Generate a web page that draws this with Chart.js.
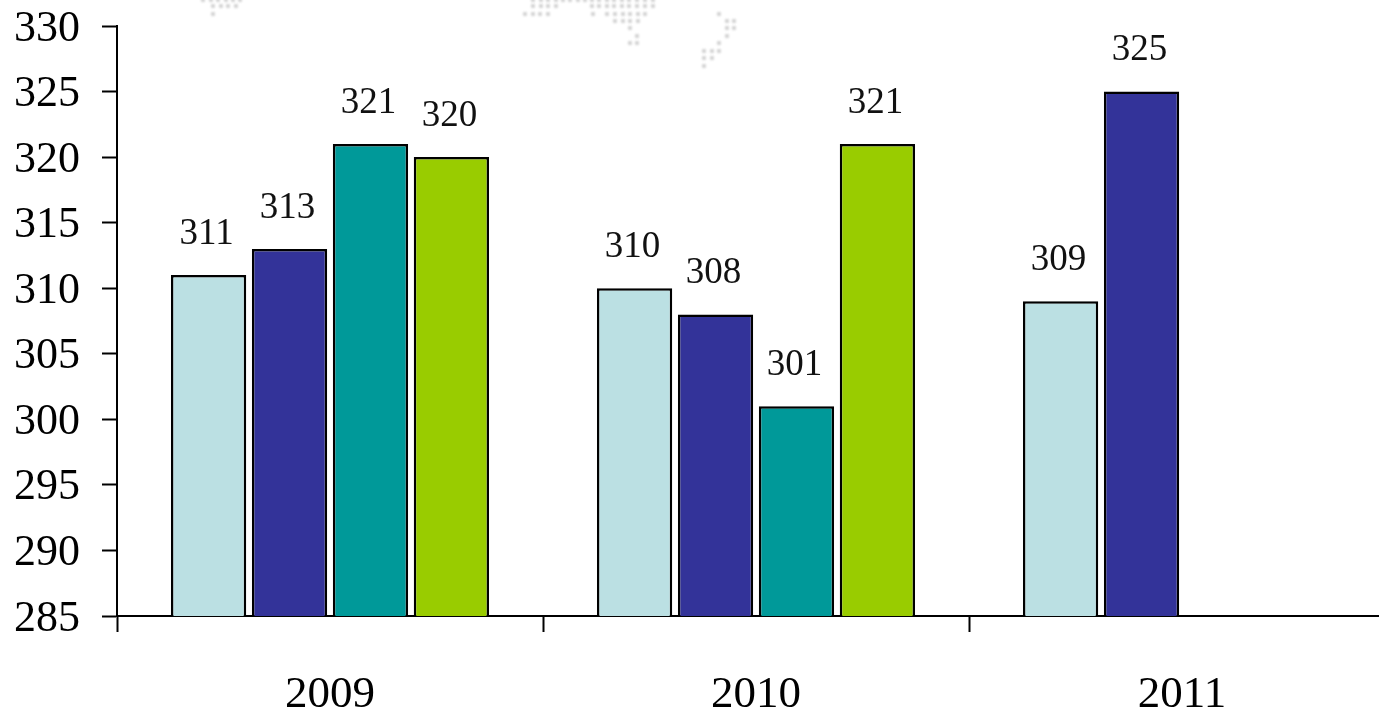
<!DOCTYPE html>
<html>
<head>
<meta charset="utf-8">
<title>Annual bars 2009-2011</title>
<script src="https://cdn.jsdelivr.net/npm/chart.js@4/dist/chart.umd.min.js"></script>
<style>
  html, body { margin: 0; padding: 0; background: #fff; overflow: hidden; }
  #chart { display: block; }
</style>
</head>
<body>
<canvas id="chart" width="1430" height="714"></canvas>
<script>
// Chart values
const years = ['2009', '2010', '2011'];
const seriesOne = [311, 310, 309];
const seriesTwo = [313, 308, 325];
const seriesThree = [321, 301, null];
const seriesFour = [320, 321, null];
const yTicks = [285, 290, 295, 300, 305, 310, 315, 320, 325, 330];

const seriesColors = ['#BBE0E3', '#333399', '#009999', '#99CC00'];
const serifFont = '"Liberation Serif", "Times New Roman", serif';

// Faint dotted world map behind the top of the plot: [y, x, x, ...]
const mapDots = [
  [0, 203, 211, 218, 226, 233, 240, 533, 541, 548, 556, 563, 570, 578, 585, 592, 599, 607, 614, 622, 629, 637, 645, 653],
  [6, 213, 221, 228, 236, 533, 541, 548, 556, 592, 599, 607, 614, 622, 629, 637, 645, 653],
  [14, 213, 525, 533, 540, 548, 593, 607, 615, 623, 630, 638, 645, 719],
  [21, 615, 623, 630, 638, 727, 734],
  [28, 630, 727, 734],
  [36, 637, 727],
  [43, 630, 637, 719],
  [51, 704, 712, 719],
  [58, 704, 712],
  [66, 704]
];

const mapBackground = {
  id: 'mapBackground',
  beforeDraw(chart) {
    const ctx = chart.ctx;
    ctx.save();
    ctx.filter = 'blur(1.2px)';
    ctx.fillStyle = '#d2d2d2';
    mapDots.forEach(([y, ...xs]) => {
      xs.forEach((x) => {
        ctx.beginPath();
        ctx.arc(x, y, 2.2, 0, Math.PI * 2);
        ctx.fill();
      });
    });
    ctx.restore();
  }
};

// Value labels float well above each bar
const valueLabels = {
  id: 'valueLabels',
  afterDatasetsDraw(chart) {
    const ctx = chart.ctx;
    ctx.save();
    ctx.font = '37px ' + serifFont;
    ctx.fillStyle = '#111';
    ctx.textAlign = 'center';
    ctx.textBaseline = 'middle';
    chart.data.datasets.forEach((dataset, i) => {
      chart.getDatasetMeta(i).data.forEach((bar, j) => {
        if (dataset.data[j] === null) return;
        ctx.fillText(dataset.data[j], bar.x - 2, bar.y - 41);
      });
    });
    ctx.restore();
  }
};

const datasets = [seriesOne, seriesTwo, seriesThree, seriesFour].map((values, i) => ({
  label: 'Series ' + (i + 1),
  data: values,
  backgroundColor: seriesColors[i],
  borderColor: '#000',
  borderWidth: 2.5,
  borderSkipped: false,
  categoryPercentage: 0.76,
  barPercentage: 0.93
}));

new Chart(document.getElementById('chart').getContext('2d'), {
  type: 'bar',
  data: { labels: years, datasets: datasets },
  plugins: [mapBackground, valueLabels],
  options: {
    responsive: false,
    animation: false,
    layout: { padding: { top: 26, right: 35, left: 0, bottom: 0 } },
    plugins: {
      legend: { display: false },
      tooltip: { enabled: false }
    },
    scales: {
      x: {
        afterFit(scale) { scale.height = 98; },
        grid: {
          drawOnChartArea: false,
          tickLength: 16,
          tickColor: '#000',
          tickWidth: 2
        },
        border: { color: '#000', width: 2 },
        ticks: {
          color: '#000',
          padding: 36,
          maxRotation: 0,
          font: { family: serifFont, size: 45 }
        }
      },
      y: {
        min: 285,
        max: 330,
        // pin the axis box so tick labels do not push the plot area down
        afterFit(scale) {
          scale.width = 117;
          scale.paddingTop = 0;
          scale.paddingBottom = 0;
        },
        afterBuildTicks(scale) { scale.ticks = yTicks.map((value) => ({ value })); },
        grid: {
          drawOnChartArea: false,
          tickLength: 15,
          tickColor: '#000',
          tickWidth: 2
        },
        border: { color: '#000', width: 2 },
        ticks: {
          color: '#000',
          padding: 22,
          labelOffset: 3,
          font: { family: serifFont, size: 44 }
        }
      }
    }
  }
});
</script>
</body>
</html>
